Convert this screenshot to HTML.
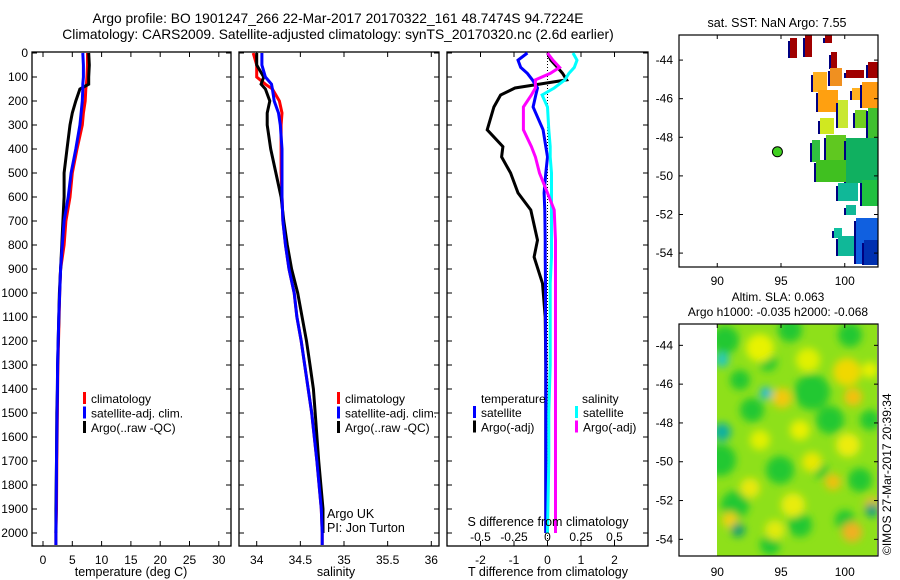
<!DOCTYPE html>
<html><head><meta charset="utf-8">
<style>
body{margin:0;background:#fff;width:900px;height:580px;overflow:hidden}
svg{font-family:"Liberation Sans",sans-serif;display:block}
text{fill:#000}
</style></head>
<body>
<svg id="chart" width="900" height="580" viewBox="0 0 900 580" xmlns="http://www.w3.org/2000/svg">
<defs>
<filter id="blur" x="-20%" y="-20%" width="140%" height="140%"><feGaussianBlur stdDeviation="4"/></filter>
<clipPath id="clipSla"><rect x="717" y="324" width="160" height="232"/></clipPath>
</defs>
<text x="338" y="23" font-size="13.8" text-anchor="middle">Argo profile: BO 1901247_266 22-Mar-2017 20170322_161 48.7474S 94.7224E</text>
<text x="338" y="39" font-size="13.8" text-anchor="middle">Climatology: CARS2009. Satellite-adjusted climatology: synTS_20170320.nc (2.6d earlier)</text>
<g id="g"></g>
</svg>
<script>
// ---- data ----
const depthsT = [0,50,100,130,150,200,250,300,400,500,600,700,800,900,1000,1100,1200,1300,1400,1500,1700,1900,2000,2050];
const tempClim = [7.6,7.6,7.5,7.4,7.3,7.2,6.9,6.7,5.8,5.0,4.6,3.9,3.6,3.0,2.85,2.75,2.65,2.55,2.5,2.45,2.35,2.3,2.2,2.2];
const tempSat  = [6.8,6.9,6.9,6.8,6.8,6.7,6.5,6.3,5.6,4.8,4.3,3.6,3.3,3.0,2.85,2.7,2.6,2.5,2.45,2.4,2.3,2.25,2.2,2.2];
const tempArgo = [7.8,7.9,7.8,7.8,6.3,5.6,5.0,4.6,4.1,3.6,3.6,3.4,3.2,3.0,2.8,2.7,2.6,2.5,2.45,2.35,2.3,2.2,2.2];
const salClim = [33.96,34.0,34.0,34.1,34.18,34.26,34.29,34.28,34.28,34.28,34.29,34.30,34.33,34.37,34.43,34.46,34.51,34.55,34.59,34.63,34.69,34.74,34.75,34.75];
const salSat  = [34.06,34.06,34.1,34.17,34.18,34.2,34.25,34.27,34.29,34.29,34.29,34.30,34.33,34.37,34.43,34.46,34.51,34.55,34.59,34.63,34.69,34.74,34.75,34.75];
const salArgo = [34.0,34.0,34.08,34.05,34.1,34.15,34.12,34.12,34.16,34.22,34.28,34.31,34.35,34.40,34.47,34.52,34.57,34.61,34.65,34.67,34.71,34.76,34.76];
const depthsD = [0,30,60,85,112,146,175,225,320,390,433,500,583,654,780,850,960,1100,1300,1500,1700,2000];
const dTArgo = [0.0,0.1,0.3,0.45,0.57,-0.97,-1.4,-1.6,-1.8,-1.33,-1.37,-1.1,-0.88,-0.5,-0.3,-0.4,-0.15,-0.07,-0.05,-0.05,-0.05,-0.05];
const dTSat  = [-0.6,-0.88,-0.8,-0.6,-0.45,-0.3,-0.35,-0.43,-0.13,-0.05,0.0,-0.05,-0.1,-0.08,-0.07,-0.07,-0.06,-0.06,-0.05,-0.05,-0.05,-0.05];
const dSSat  = [0.19,0.22,0.2,0.16,0.13,0.05,-0.04,0.0,0.01,0.02,0.02,0.03,0.03,0.03,0.03,0.03,0.02,0.02,0.02,0.01,0.01,0.0];
const dSArgo = [0.0,0.04,0.09,0.02,-0.09,-0.09,-0.12,-0.18,-0.18,-0.12,-0.09,-0.06,0.0,0.05,0.06,0.06,0.06,0.06,0.06,0.06,0.06,0.06];
const depthTicks = [0,100,200,300,400,500,600,700,800,900,1000,1100,1200,1300,1400,1500,1600,1700,1800,1900,2000];
const tempTicks = [0,5,10,15,20,25,30];
const salTicks = [34,34.5,35,35.5,36];
const salTickLabels = ["34","34.5","35","35.5","36"];
const dTTicks = [-2,-1,0,1,2];
const dSTicks = [-0.5,-0.25,0,0.25,0.5];
const dSTickLabels = ["-0.5","-0.25","0","0.25","0.5"];
const lonTicks = [90,95,100];
const latTicks = [-44,-46,-48,-50,-52,-54];
const argoLon = 94.72, argoLat = -48.75;

// ---- axis functions ----
const TOP=52, BOT=546;
const yD = d => 53 + d*0.24;
const P1={l:32,r:231}, P2={l:239,r:439}, P3={l:447,r:648};
const xT = v => 43 + v*5.86;
const xS = v => 256.7 + (v-34)*87.3;
const xDT = v => 547.5 + v*33.5;
const xDS = v => 547.5 + v*134;
const M={l:679,r:878};
const xLon = v => 679 + (v-87)*12.75;
const yLat1 = v => 35 + (-42.7 - v)*19.3;
const yLat2 = v => 324 + (-42.9 - v)*19.4;

const NS="http://www.w3.org/2000/svg";
const G=document.getElementById('g');
function mk(tag,attrs,parent){const e=document.createElementNS(NS,tag);for(const k in attrs)e.setAttribute(k,attrs[k]);(parent||G).appendChild(e);return e;}
function txt(x,y,s,anchor,size,parent){const t=mk('text',{x:x,y:y,'font-size':size||12,'text-anchor':anchor||'start'},parent);t.textContent=s;return t;}

function frame(p,name,top,bot){
  const r=mk('rect',{x:p.l,y:top,width:p.r-p.l,height:bot-top,fill:'none',stroke:'#000','stroke-width':1.3});
  
  
}
function line(xs,ds,xf,color,name,w){
  const pts=xs.map((v,i)=>xf(v).toFixed(1)+','+yD(ds[i]).toFixed(1)).join(' ');
  const pl=mk('polyline',{points:pts,fill:'none',stroke:color,'stroke-width':w||3,'stroke-linejoin':'miter'});
  
  
}
function depthTicksFor(p,labels){
  const g=mk('g',{});
  
  
  depthTicks.forEach(d=>{
    mk('line',{x1:p.l,x2:p.l+5,y1:yD(d),y2:yD(d),stroke:'#000'},g);
    mk('line',{x1:p.r,x2:p.r-5,y1:yD(d),y2:yD(d),stroke:'#000'},g);
    if(labels) txt(28,yD(d)+4,String(d),'end',12,g);
  });
}
function xTicks(p,vals,labs,xf,name,ly){
  const g=mk('g',{});
  
  
  vals.forEach((v,i)=>{
    mk('line',{x1:xf(v),x2:xf(v),y1:BOT,y2:BOT-5,stroke:'#000'},g);
    mk('line',{x1:xf(v),x2:xf(v),y1:TOP,y2:TOP+5,stroke:'#000'},g);
    if(labs) txt(xf(v),ly||564,labs[i],'middle',12,g);
  });
}
function legend(x,y,items){
  items.forEach((it,i)=>{
    const g=mk('g',{});
    
    
    mk('rect',{x:x,y:y+i*14.5-11,width:3,height:12,fill:it[0]},g);
    txt(x+8,y+i*14.5,it[1],'start',12,g);
  });
}

// Panel 1 temperature
frame(P1,'temperature-panel',TOP,BOT);
depthTicksFor(P1,true);
xTicks(P1,tempTicks,tempTicks.map(String),xT,'temperature-x-axis');
txt(131,576,'temperature (deg C)','middle',12.5);
line(tempClim,depthsT,xT,'#ff0000','temp-climatology-line');
line(tempArgo,depthsT.slice(0,tempArgo.length),xT,'#000000','temp-argo-line');
line(tempSat,depthsT,xT,'#0000ff','temp-satellite-line');
legend(83,403,[['#ff0000','climatology'],['#0000ff','satellite-adj. clim.'],['#000','Argo(..raw -QC)']]);

// Panel 2 salinity
frame(P2,'salinity-panel',TOP,BOT);
depthTicksFor(P2,false);
xTicks(P2,salTicks,salTickLabels,xS,'salinity-x-axis');
txt(336,576,'salinity','middle',12.5);
line(salClim,depthsT,xS,'#ff0000','sal-climatology-line');
line(salArgo,depthsT.slice(0,salArgo.length),xS,'#000000','sal-argo-line');
line(salSat,depthsT,xS,'#0000ff','sal-satellite-line');
legend(337,403,[['#ff0000','climatology'],['#0000ff','satellite-adj. clim.'],['#000','Argo(..raw -QC)']]);
txt(327,518,'Argo UK','start',12.5);
txt(327,532,'PI: Jon Turton','start',12.5);

// Panel 3 differences
frame(P3,'difference-panel',TOP,BOT);
depthTicksFor(P3,false);
xTicks(P3,dTTicks,dTTicks.map(String),xDT,'t-difference-x-axis');
const zl=mk('line',{x1:xDT(0),x2:xDT(0),y1:TOP,y2:BOT,stroke:'#000','stroke-dasharray':'1,2'});


line(dTArgo,depthsD,xDT,'#000000','dT-argo-line');
line(dTSat,depthsD,xDT,'#0000ff','dT-satellite-line');
line(dSSat,depthsD,xDS,'#00ffff','dS-satellite-line');
line(dSArgo,depthsD,xDS,'#ff00ff','dS-argo-line');
const sg=mk('g',{});


dSTicks.forEach((v,i)=>txt(xDS(v),541,dSTickLabels[i],'middle',12,sg));
txt(548,526,'S difference from climatology','middle',12.5);
txt(548,576,'T difference from climatology','middle',12.5);
txt(481,403,'temperature','start',12);
txt(582,403,'salinity','start',12);
legend(473,417,[['#0000ff','satellite'],['#000','Argo(-adj)']]);
legend(575,417,[['#00ffff','satellite'],['#ff00ff','Argo(-adj)']]);

// Map 1 SST
const m1=mk('g',{});


const blocks=[
 [790,38,7,20,'#a00000'],[805,35,7,22,'#a00000'],[825,35,7,8,'#a00000'],[831,52,6,17,'#a00000'],[846,70,18,8,'#a00000'],[868,62,10,16,'#a00000'],
 [813,72,14,20,'#ffb020'],[818,90,20,22,'#ffa010'],[830,68,12,18,'#f09020'],[852,88,8,12,'#ffb020'],[862,82,16,26,'#ff9a10'],
 [820,118,14,16,'#d0e820'],[838,100,10,28,'#c8e830'],[855,110,12,18,'#70d020'],[868,108,10,30,'#40c030'],
 [812,140,8,22,'#30c040'],[826,135,20,28,'#60c820'],[846,138,32,45,'#10b060'],[816,160,30,22,'#40c020'],[862,180,16,26,'#20c040'],
 [838,183,20,18,'#10b898'],[846,205,10,10,'#10b898'],[834,228,8,10,'#10c0a0'],[838,236,20,20,'#10b898'],[856,218,22,46,'#1060e0'],[864,240,14,25,'#0030b0']
];
blocks.forEach(b=>{mk('rect',{x:b[0],y:b[1],width:b[2],height:b[3],fill:b[4]},m1);mk('rect',{x:b[0]-2,y:b[1]+3,width:2,height:b[3]-3,fill:'#000080'},m1);});
const pt=mk('circle',{cx:xLon(argoLon),cy:yLat1(argoLat),r:5,fill:'#40d020',stroke:'#000','stroke-width':1});


mk('rect',{x:M.l,y:35,width:M.r-M.l,height:232,fill:'none',stroke:'#000','stroke-width':1.2});
const a1=mk('g',{});


latTicks.forEach(v=>{mk('line',{x1:M.l,x2:M.l+4,y1:yLat1(v),y2:yLat1(v),stroke:'#000'},a1);mk('line',{x1:M.r,x2:M.r-4,y1:yLat1(v),y2:yLat1(v),stroke:'#000'},a1);txt(673,yLat1(v)+4,String(v),'end',12,a1);});
lonTicks.forEach(v=>{mk('line',{x1:xLon(v),x2:xLon(v),y1:267,y2:263,stroke:'#000'},a1);mk('line',{x1:xLon(v),x2:xLon(v),y1:35,y2:39,stroke:'#000'},a1);txt(xLon(v),285,String(v),'middle',12,a1);});
txt(777,27,'sat. SST: NaN Argo: 7.55','middle',12.5);

// Map 2 SLA
const m2=mk('g',{'clip-path':'url(#clipSla)'});


mk('rect',{x:717,y:324,width:160,height:232,fill:'#8ee01a'},m2);
const bl=mk('g',{filter:'url(#blur)'},m2);
const greens=[[725,340,14],[790,330,12],[850,335,12],[740,380,10],[768,362,9],[812,392,18],[830,420,14],[752,410,12],[720,460,16],[780,470,14],[735,505,14],[800,525,12],[860,480,12],[770,545,10],[845,520,10],[870,420,10],[820,470,8]];
greens.forEach(b=>mk('circle',{cx:b[0],cy:b[1],r:b[2],fill:'#20c830'},bl));
const yel=[[760,348,14,'#e8f200'],[808,360,12,'#e0f000'],[847,372,14,'#f0d800'],[853,397,9,'#f4c010'],[782,398,10,'#f2c810'],
 [800,430,10,'#e8f000'],[760,440,10,'#e0f000'],[812,462,10,'#e8e800'],[848,445,12,'#ecec10'],[833,482,8,'#f0c010'],[750,488,10,'#e8e810'],[793,505,12,'#e8ec10'],
 [852,532,10,'#f0b020'],[775,530,10,'#e0ea10'],[872,505,8,'#f0c020'],[730,520,8,'#f0d010'],[870,370,8,'#e8f000']];
yel.forEach(b=>mk('circle',{cx:b[0],cy:b[1],r:b[2],fill:b[3]},bl));
const dark=[[722,360,7,'#20c8c0'],[766,393,6,'#20b8e0'],[722,432,9,'#10b0a0'],[872,510,7,'#10a080'],[738,530,7,'#10a070']];
dark.forEach(b=>mk('circle',{cx:b[0],cy:b[1],r:b[2],fill:b[3]},bl));
mk('rect',{x:M.l,y:324,width:M.r-M.l,height:232,fill:'none',stroke:'#000','stroke-width':1.2});
const a2=mk('g',{});


latTicks.forEach(v=>{mk('line',{x1:M.l,x2:M.l+4,y1:yLat2(v),y2:yLat2(v),stroke:'#000'},a2);mk('line',{x1:M.r,x2:M.r-4,y1:yLat2(v),y2:yLat2(v),stroke:'#000'},a2);txt(673,yLat2(v)+4,String(v),'end',12,a2);});
lonTicks.forEach(v=>{mk('line',{x1:xLon(v),x2:xLon(v),y1:324,y2:328,stroke:'#000'},a2);txt(xLon(v),576,String(v),'middle',12,a2);});
txt(778,301,'Altim. SLA: 0.063','middle',12);
txt(778,316,'Argo h1000: -0.035 h2000: -0.068','middle',12);
const im=txt(0,0,'©IMOS 27-Mar-2017 20:39:34','start',12);
im.setAttribute('transform','translate(891,555) rotate(-90)');


</script>
</body></html>
